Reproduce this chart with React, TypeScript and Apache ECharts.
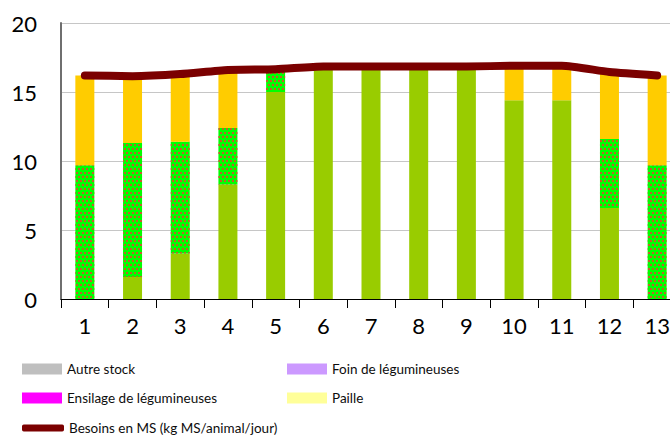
import React, { useEffect, useRef } from "react";
import * as echarts from "echarts";

const categories = ["1", "2", "3", "4", "5", "6", "7", "8", "9", "10", "11", "12", "13"];
const herbePaturee = [0, 1.6, 3.3, 8.3, 15.0, 16.8, 16.8, 16.8, 16.8, 14.4, 14.4, 6.6, 0];
const ensilageHerbe = [9.7, 9.7, 8.1, 4.1, 1.6, 0, 0, 0, 0, 0, 0, 5.0, 9.7];
const foin = [6.5, 4.9, 4.9, 4.2, 0, 0, 0, 0, 0, 2.5, 2.5, 4.8, 6.5];
const autreStock = [0, 0, 0, 0, 0, 0, 0, 0, 0, 0, 0, 0, 0];
const foinLegumineuses = [0, 0, 0, 0, 0, 0, 0, 0, 0, 0, 0, 0, 0];
const ensilageLegumineuses = [0, 0, 0, 0, 0, 0, 0, 0, 0, 0, 0, 0, 0];
const paille = [0, 0, 0, 0, 0, 0, 0, 0, 0, 0, 0, 0, 0];
const besoins = [16.2, 16.15, 16.3, 16.6, 16.65, 16.85, 16.85, 16.85, 16.85, 16.9, 16.9, 16.45, 16.2];
const yTicks = [0, 5, 10, 15, 20];

const FONT = "Lato";

export default function App() {
  const ref = useRef<HTMLDivElement>(null);
  useEffect(() => {
    document.body.style.margin = "0";
    const chart = echarts.init(ref.current!, null, { renderer: "svg" });
    const legendText = { fontFamily: FONT, fontSize: 13.5, color: "#0d0d0d" };
    const mkLegend = (name: string, left: number, top: number, icon = "rect", h = 11, w = 40) => ({
      data: [name],
      left,
      top,
      padding: 0,
      icon,
      itemWidth: w,
      itemHeight: h,
      textStyle: legendText,
      selectedMode: false,
    });
    const barBase = {
      type: "bar" as const,
      stack: "total",
      barWidth: 19,
    };
    chart.setOption({
      animation: false,
      grid: { left: 61, right: 0, top: 23, bottom: 138, containLabel: false },
      legend: [
        mkLegend("Autre stock", 22, 362),
        mkLegend("Foin de légumineuses", 287, 362),
        mkLegend("Ensilage de légumineuses", 22, 391),
        mkLegend("Paille", 287, 391),
        mkLegend("Besoins en MS (kg MS/animal/jour)", 22, 421, "roundRect", 7, 42),
      ],
      xAxis: {
        type: "category",
        data: categories,
        boundaryGap: true,
        axisLine: { lineStyle: { color: "#000", width: 1 } },
        axisTick: { show: true, length: 9, lineStyle: { color: "#000" } },
        axisLabel: { interval: 0, fontFamily: FONT, fontSize: 22, color: "#000", margin: 15 },
      },
      yAxis: {
        type: "value",
        min: yTicks[0],
        max: yTicks[yTicks.length - 1],
        interval: 5,
        axisLine: { show: true, lineStyle: { color: "#6f6f6f", width: 2 } },
        axisTick: { show: false },
        axisLabel: { fontFamily: FONT, fontSize: 22, color: "#000", margin: 24 },
        splitLine: { lineStyle: { color: "#c6c6c6", width: 1 } },
      },
      series: [
        { ...barBase, name: "Herbe pâturée", data: herbePaturee, itemStyle: { color: "#99cc00" } },
        {
          ...barBase,
          name: "Ensilage d'herbe",
          data: ensilageHerbe,
          itemStyle: {
            color: "#00ff00",
            decal: {
              symbol: "rect",
              symbolSize: 1,
              color: "#c0602a",
              dashArrayX: [[2, 2], [0, 2, 2, 0]],
              dashArrayY: [2, 2],
              rotation: 0,
            },
          },
        },
        { ...barBase, name: "Foin", data: foin, itemStyle: { color: "#ffcc00" } },
        { ...barBase, name: "Autre stock", data: autreStock, itemStyle: { color: "#bfbfbf" } },
        { ...barBase, name: "Foin de légumineuses", data: foinLegumineuses, itemStyle: { color: "#cc99ff" } },
        { ...barBase, name: "Ensilage de légumineuses", data: ensilageLegumineuses, itemStyle: { color: "#ff00ff" } },
        { ...barBase, name: "Paille", data: paille, itemStyle: { color: "#ffff99" } },
        {
          type: "line",
          name: "Besoins en MS (kg MS/animal/jour)",
          data: besoins,
          smooth: 0.2,
          symbol: "none",
          z: 5,
          lineStyle: { color: "#7b0000", width: 8, cap: "round", join: "round" },
          itemStyle: { color: "#7b0000" },
        },
      ],
    });
    return () => chart.dispose();
  }, []);
  return (
    <div style={{ position: "absolute", left: 0, top: 0, width: 670, height: 437, overflow: "hidden" }}>
      <div ref={ref} style={{ width: 681, height: 437 }} />
    </div>
  );
}
